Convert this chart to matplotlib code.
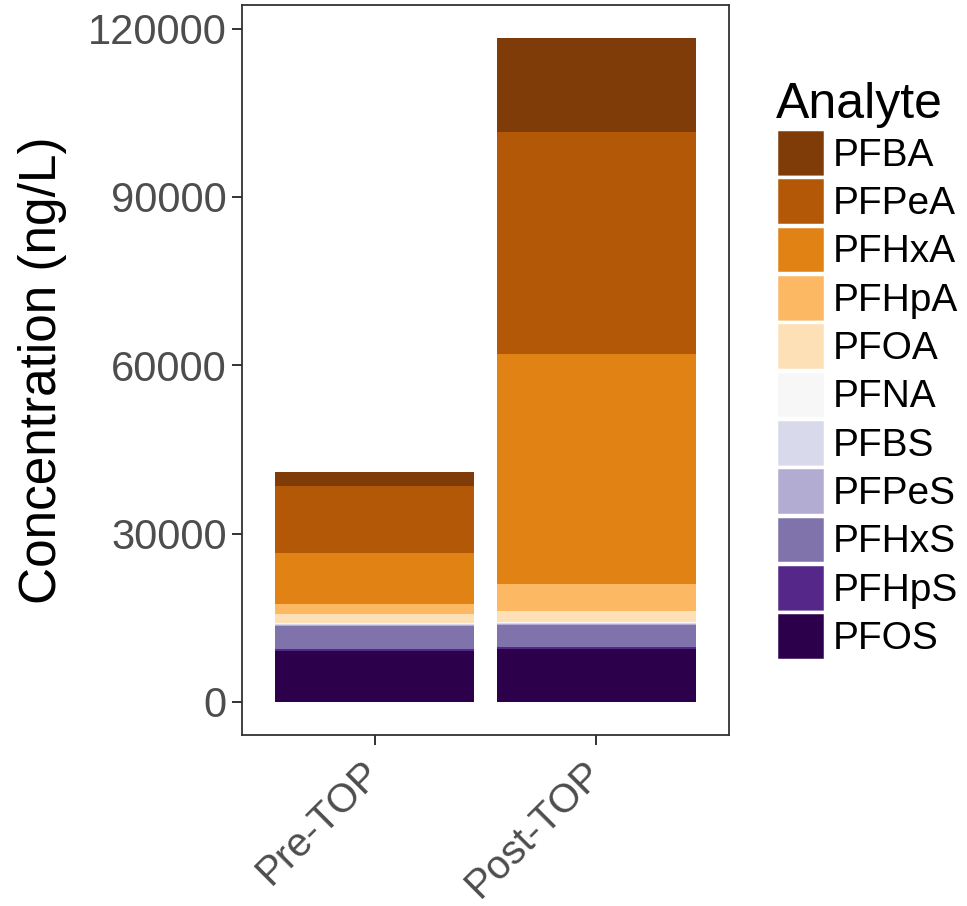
import matplotlib
matplotlib.use("Agg")
import matplotlib.pyplot as plt
from matplotlib.patches import Patch

plt.rcParams['font.family'] = ['Liberation Sans', 'DejaVu Sans']

# --- Data ---
samples = ["Pre-TOP", "Post-TOP"]
analytes = ["PFBA", "PFPeA", "PFHxA", "PFHpA", "PFOA", "PFNA",
            "PFBS", "PFPeS", "PFHxS", "PFHpS", "PFOS"]
colors = ["#7f3b08", "#b35806", "#e08214", "#fdb863", "#fee0b6", "#f7f7f7",
          "#d8daeb", "#b2abd2", "#8073ac", "#542788", "#2d004b"]

# concentrations (ng/L), one list per analyte: [Pre-TOP, Post-TOP]
pfba = [2500, 16700]
pfpea = [11950, 39600]
pfhxa = [9040, 41000]
pfhpa = [1780, 4810]
pfoa = [1700, 1960]
pfna = [100, 100]
pfbs = [200, 200]
pfpes = [250, 250]
pfhxs = [3980, 3920]
pfhps = [400, 360]
pfos = [9100, 9380]

values = [pfba, pfpea, pfhxa, pfhpa, pfoa, pfna, pfbs, pfpes, pfhxs, pfhps, pfos]

# --- Figure ---
fig = plt.figure(figsize=(9.67, 9.06), dpi=100)
ax = fig.add_axes([0.2503, 0.1887, 0.5036, 0.8058])

x = list(range(1, len(samples) + 1))
bottom = [0.0] * len(samples)
# stack from PFOS (bottom) up to PFBA (top)
for name, col, vals in reversed(list(zip(analytes, colors, values))):
    ax.bar(x, vals, width=0.9, bottom=bottom, color=col, edgecolor='none')
    bottom = [b + v for b, v in zip(bottom, vals)]

top = max(bottom)
ax.set_xlim(0.4, 2.6)
ax.set_ylim(-0.05 * top, 1.05 * top)
ax.set_yticks([0, 30000, 60000, 90000, 120000])
ax.set_xticks(x)
ax.set_xticklabels(samples, rotation=45, ha='right', va='center',
                   rotation_mode='anchor')

for s in ax.spines.values():
    s.set_color('#333333')
    s.set_linewidth(1.3)
ax.tick_params(axis='both', colors='#333333', length=7, width=1.4,
               labelcolor='#4d4d4d')
ax.tick_params(axis='y', pad=4, labelsize=30)
ax.tick_params(axis='x', pad=16, labelsize=29)

ax.set_ylabel('Concentration (ng/L)', fontsize=37, color='black')
ax.yaxis.set_label_coords(-0.36, 0.5)

# --- Legend ---
handles = [Patch(facecolor=c, edgecolor='white', linewidth=2.5) for c in colors]
leg = fig.legend(handles, analytes, loc='upper left',
                 bbox_to_anchor=(0.8028, 0.909), frameon=False,
                 title='Analyte', title_fontsize=36, fontsize=28,
                 handlelength=1.247, handleheight=1.52, handletextpad=0.2,
                 labelspacing=0.01, borderpad=0, borderaxespad=0,
                 alignment='left')

fig.savefig('out.png', dpi=100, facecolor='white')
